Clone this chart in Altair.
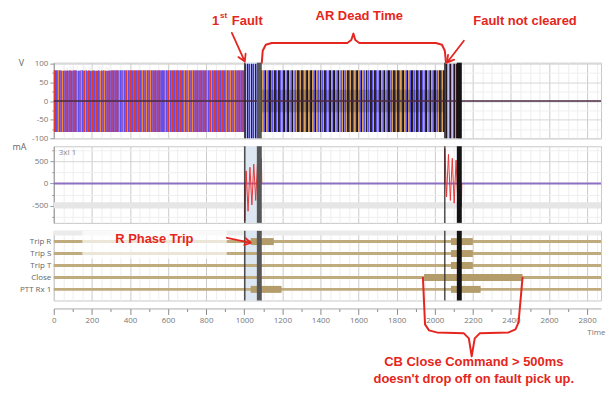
import altair as alt
import pandas as pd

# ------------------------------------------------------------------ data
T_END = 2873
W = 550
RED = "#e52620"

# voltage (V): envelope of the three-phase record per section
v_seg_start = [0, 1003, 1066, 2053]
v_seg_end = [1003, 1066, 2053, 2142]
v_seg_amp = [83, 100, 83, 100]
v_seg_cycles = [50, 3, 49, 4]
v_core_start = [1066]
v_core_end = [2053]
v_core_amp = [30]
v_zero_t = [0, 2873]
v_zero_v = [0, 0]
v_label = ["3xV L-Neutral"]

# current (mA)
i_zero_t = [0, 2873]
i_zero_v = [0, 0]
i_burst1_t = [1002, 1003, 1010, 1020, 1030, 1040, 1050, 1060, 1070, 1080, 1090, 1092]
i_burst1_v = [0, -840, 280, -620, 360, -480, 430, -380, 500, -300, 560, 0]
i_burst2_t = [2052, 2053, 2062, 2072, 2082, 2092, 2102, 2112, 2122, 2132, 2140, 2142]
i_burst2_v = [0, 780, -300, 650, -380, 560, -440, 520, -500, 420, -520, 0]
i_band = [-560, -420]
i_label = ["3xI 1"]

# digital channels
channels = ["Trip R", "Trip S", "Trip T", "Close", "PTT Rx 1"]
bar_channel = ["Trip R", "PTT Rx 1", "Trip R", "Trip S", "Trip T", "Close", "PTT Rx 1"]
bar_start = [1034, 1034, 2085, 2085, 2085, 1944, 2085]
bar_end = [1155, 1196, 2200, 2200, 2200, 2461, 2241]

# cursors and fault shading (ms)
cursor_thin = [1003, 2053]
cursor_thick_start = [1066, 2116]
cursor_thick_end = [1092, 2142]
shade_start = [1003]
shade_end = [1066]

# axis ticks
x_ticks = list(range(0, 2851, 50))
v_ticks = [-100, -75, -50, -25, 0, 25, 50, 75, 100]
i_ticks = [-750, -500, -250, 0, 250, 500, 750]
row_ticks = [1, 2, 3, 4, 5]

# annotations (data coordinates of their panel)
top_text = ["AR Dead Time", "Fault not cleared"]
top_text_t = [1604, 2474]
top_text_v = [228, 215]
fault_parts = ["1", "st", "Fault"]
fault_parts_t = [831, 873, 935]
fault_parts_v = [215, 227, 215]
fault_parts_size = [13, 8, 13]
brace_top_t = [1092, 1097, 1113, 1144, 1541, 1562, 1573, 1583, 1604, 2006, 2038, 2053, 2059]
brace_top_v = [103, 135, 151, 156, 156, 164, 181, 164, 156, 156, 151, 135, 103]
arrow1_t = [935, 1003, 1007, 1003, 969]
arrow1_v = [183, 106, 127, 106, 118]
arrow2_t = [2153, 2064, 2102, 2064, 2070]
arrow2_v = [162, 103, 111, 103, 124]

trip_text = ["R Phase Trip"]
trip_text_t = [528]
trip_text_v = [0.77]
overlay_t = [150, 908]
overlay_v = [0.1, 2.43]
arrow3_t = [909, 1034, 1007, 1034, 1000]
arrow3_v = [0.68, 1.1, 0.71, 1.1, 1.28]
brace_bot_t = [1938, 1949, 1970, 2011, 2153, 2179, 2194, 2210, 2236, 2388, 2424, 2440, 2461]
brace_bot_v = [4.02, 7.93, 8.43, 8.6, 8.68, 9.1, 10.6, 9.1, 8.68, 8.6, 8.35, 7.77, 4.02]
bottom_text = ["CB Close Command > 500ms", "doesn't drop off on fault pick up."]
bottom_text_t = [2205, 2205]
bottom_text_v = [11.1, 12.52]

# ------------------------------------------------------------------ styles
PATTERNS = [
    [(0.2, "#e23a28"), (0.32, "#f2863a"), (0.45, "#a8488c"), (0.72, "#5b4ff0"), (1.0, "#8e5cc8")],
    [(0.25, "#3a3ab8"), (0.45, "#b9bdf0"), (0.7, "#1e1e3c"), (1.0, "#7a78d8")],
    [(0.2, "#5d55ee"), (0.32, "#15151f"), (0.56, "#d9a45a"), (0.68, "#2a2020"), (0.86, "#8f80e8"),
     (1.0, "#302838")],
    [(0.25, "#5850e6"), (0.4, "#241820"), (0.65, "#a090f0"), (0.8, "#3a1e22"), (1.0, "#c8c2f2")],
]


def gradient(n, pattern):
    stops = []
    for k in range(n):
        prev = 0.0
        for frac, col in pattern:
            stops.append({"offset": round((k + prev) / n, 5), "color": col})
            stops.append({"offset": round((k + frac) / n, 5), "color": col})
            prev = frac
    return {"gradient": "linear", "x1": 0, "x2": 1, "y1": 0, "y2": 0, "stops": stops}


xs = alt.Scale(domain=[0, T_END], nice=False, zero=False)
ys1 = alt.Scale(domain=[-100, 103], nice=False, zero=False)
ys2 = alt.Scale(domain=[-880, 830], nice=False, zero=False)
ys3 = alt.Scale(domain=[0.1, 5.93], reverse=True, nice=False, zero=False)

x_grid_color = {"condition": {"test": "datum.value % 200 === 0", "value": "#cbcbcb"}, "value": "#eeeeee"}
ax_xh = alt.Axis(values=x_ticks, labels=False, ticks=False, domain=False, grid=True,
                 gridColor=x_grid_color, title=None)
ax_x = alt.Axis(values=x_ticks, grid=True, gridColor=x_grid_color, orient="bottom", offset=8,
                labelExpr="datum.value % 200 === 0 ? toString(datum.value) : ''",
                labelOverlap=False, labelFlush=False, labelPadding=2,
                tickSize={"condition": [{"test": "datum.value % 200 === 0", "value": 6},
                                        {"test": "datum.value % 100 === 0", "value": 3}], "value": 0},
                tickColor="#888", domainColor="#aaa",
                title="Time", titleAnchor="end", titleAlign="right", titleX=W + 4, titleY=20,
                titleFontSize=8, titleColor="#777", titleFontWeight="normal")


def y_axis(vals, major, title, title_x):
    return alt.Axis(values=vals,
                    labelExpr=f"datum.value % {major} === 0 ? toString(datum.value) : ''",
                    labelOverlap=False, labelPadding=2,
                    tickSize={"condition": {"test": f"datum.value % {major} === 0", "value": 4}, "value": 2},
                    gridColor={"condition": {"test": f"datum.value % {major} === 0", "value": "#d6d6d6"},
                               "value": "#efefef"},
                    title=title, titleAngle=0, titleX=title_x, titleY=0, titleAlign="center",
                    titleBaseline="middle", titleFontSize=9, titleColor="#666", titleFontWeight="normal")


ax_y1 = y_axis(v_ticks, 50, "V", -33)
ax_y2 = y_axis(i_ticks, 500, "mA", -35)
row_expr = "[" + ",".join(f"'{c}'" for c in channels) + "][datum.value - 1]"
ax_y3 = alt.Axis(values=row_ticks, labelExpr=row_expr, ticks=False, domain=False, grid=False,
                 labelPadding=3, labelColor="#666", title=None)


def X(field, axis):
    return alt.X(f"{field}:Q", scale=xs, axis=axis, title=None)


def Y1(field):
    return alt.Y(f"{field}:Q", scale=ys1, axis=ax_y1, title="V")


def Y2(field):
    return alt.Y(f"{field}:Q", scale=ys2, axis=ax_y2, title="mA")


def Y3(field):
    return alt.Y(f"{field}:Q", scale=ys3, axis=ax_y3, title=None)


def cursor_layers(axis):
    thin = alt.Chart(pd.DataFrame({"t": cursor_thin})).mark_rule(color="#262626", strokeWidth=1.2).encode(
        x=X("t", axis))
    thick = alt.Chart(pd.DataFrame({"t": cursor_thick_start, "t1": cursor_thick_end, "k": [0, 1]})).mark_rect(
    ).encode(x=X("t", axis), x2="t1:Q",
             color=alt.Color("k:N", scale=alt.Scale(domain=[0, 1], range=["#575757", "#141414"]), legend=None))
    return [thin, thick]


def red_path(ts, vs, Yf, axis, width=2):
    df = pd.DataFrame({"t": ts, "v": vs, "o": list(range(len(ts)))})
    return alt.Chart(df).mark_line(color=RED, strokeWidth=width, strokeCap="round", strokeJoin="round").encode(
        x=X("t", axis), y=Yf("v"), order="o:Q")


# ------------------------------------------------------------------ panel 1 (V)
p1_layers = [
    alt.Chart(pd.DataFrame({"t": shade_start, "t1": shade_end})).mark_rect(color="#dde7f2").encode(
        x=X("t", ax_xh), x2="t1:Q")
]
for i in range(len(v_seg_start)):
    df = pd.DataFrame({"t": [v_seg_start[i], v_seg_end[i]],
                       "lo": [-v_seg_amp[i]] * 2, "hi": [v_seg_amp[i]] * 2})
    p1_layers.append(alt.Chart(df).mark_area(fill=gradient(v_seg_cycles[i], PATTERNS[i]), opacity=1).encode(
        x=X("t", ax_xh), y=Y1("lo"), y2="hi:Q"))
core_df = pd.DataFrame({"t": [v_core_start[0], v_core_end[0]], "lo": [-v_core_amp[0]] * 2, "hi": [v_core_amp[0]] * 2})
p1_layers.append(alt.Chart(core_df).mark_area(color="#1a1020", opacity=0.22).encode(
    x=X("t", ax_xh), y=Y1("lo"), y2="hi:Q"))
p1_layers.append(alt.Chart(pd.DataFrame({"t": v_zero_t, "v": v_zero_v})).mark_line(
    color="#4a2840", strokeWidth=1.5).encode(x=X("t", ax_xh), y=Y1("v")))
p1_layers += cursor_layers(ax_xh)
p1_layers.append(alt.Chart(pd.DataFrame({"t": [37], "v": [87], "s": v_label})).mark_text(
    align="left", baseline="middle", font="Open Sans", fontSize=8, color="#f0f0f0").encode(
    x=X("t", ax_xh), y=Y1("v"), text="s:N"))
p1_layers.append(alt.Chart(pd.DataFrame({"t": top_text_t, "v": top_text_v, "s": top_text})).mark_text(
    align="center", baseline="middle", font="Liberation Sans", fontWeight="bold", fontSize=13, color=RED).encode(
    x=X("t", ax_xh), y=Y1("v"), text="s:N"))
p1_layers.append(alt.Chart(pd.DataFrame({"t": fault_parts_t, "v": fault_parts_v, "s": fault_parts,
                                          "z": fault_parts_size})).mark_text(
    align="left", baseline="middle", font="Liberation Sans", fontWeight="bold", color=RED).encode(
    x=X("t", ax_xh), y=Y1("v"), text="s:N", size=alt.Size("z:Q", scale=None)))
p1_layers.append(red_path(brace_top_t, brace_top_v, Y1, ax_xh, 2))
p1_layers.append(red_path(arrow1_t, arrow1_v, Y1, ax_xh, 1.8))
p1_layers.append(red_path(arrow2_t, arrow2_v, Y1, ax_xh, 1.8))
p1 = alt.layer(*p1_layers).properties(width=W, height=76)

# ------------------------------------------------------------------ panel 2 (mA)
p2_layers = [
    alt.Chart(pd.DataFrame({"t": [0], "t1": [T_END], "lo": [i_band[0]], "hi": [i_band[1]]})).mark_rect(
        color="#e6e6e6").encode(x=X("t", ax_xh), x2="t1:Q", y=Y2("lo"), y2="hi:Q"),
    alt.Chart(pd.DataFrame({"t": shade_start, "t1": shade_end})).mark_rect(color="#dde7f2").encode(
        x=X("t", ax_xh), x2="t1:Q"),
    alt.Chart(pd.DataFrame({"t": i_zero_t, "v": i_zero_v})).mark_line(color="#8c70c4", strokeWidth=2).encode(
        x=X("t", ax_xh), y=Y2("v")),
    alt.Chart(pd.DataFrame({"t": i_burst1_t, "v": i_burst1_v})).mark_line(color="#e8383a", strokeWidth=1).encode(
        x=X("t", ax_xh), y=Y2("v")),
    alt.Chart(pd.DataFrame({"t": i_burst2_t, "v": i_burst2_v})).mark_line(color="#e8383a", strokeWidth=1).encode(
        x=X("t", ax_xh), y=Y2("v")),
]
p2_layers += cursor_layers(ax_xh)
p2_layers.append(alt.Chart(pd.DataFrame({"t": [26], "v": [675], "s": i_label})).mark_text(
    align="left", baseline="middle", font="Open Sans", fontSize=8, color="#888").encode(
    x=X("t", ax_xh), y=Y2("v"), text="s:N"))
p2 = alt.layer(*p2_layers).properties(width=W, height=77)

# ------------------------------------------------------------------ panel 3 (digital)
base_df = pd.DataFrame({"row": [channels.index(c) + 1 for c in channels], "t": [0] * len(channels),
                        "t1": [T_END] * len(channels)})
bars_df = pd.DataFrame({"row": [channels.index(c) + 1 for c in bar_channel], "t": bar_start, "t1": bar_end})
p3_layers = [
    alt.Chart(pd.DataFrame({"t": [0], "t1": [T_END], "lo": [0.1], "hi": [0.5]})).mark_rect(
        color="#ebebeb").encode(x=X("t", ax_x), x2="t1:Q", y=Y3("lo"), y2="hi:Q"),
    alt.Chart(pd.DataFrame({"t": shade_start, "t1": shade_end})).mark_rect(color="#dde7f2").encode(
        x=X("t", ax_x), x2="t1:Q"),
    alt.Chart(base_df).mark_rule(color="#c0ab7e", strokeWidth=3).encode(x=X("t", ax_x), x2="t1:Q", y=Y3("row")),
    alt.Chart(pd.DataFrame({"t": [overlay_t[0]], "t1": [overlay_t[1]], "lo": [overlay_v[0]], "hi": [overlay_v[1]]})
              ).mark_rect(color="white", opacity=0.7).encode(x=X("t", ax_x), x2="t1:Q", y=Y3("lo"), y2="hi:Q"),
    alt.Chart(bars_df).mark_rule(color="#b39c6a", strokeWidth=7).encode(x=X("t", ax_x), x2="t1:Q", y=Y3("row")),
]
p3_layers += cursor_layers(ax_x)
p3_layers.append(alt.Chart(pd.DataFrame({"t": trip_text_t, "v": trip_text_v, "s": trip_text})).mark_text(
    align="center", baseline="middle", font="Liberation Sans", fontWeight="bold", fontSize=13, color=RED).encode(
    x=X("t", ax_x), y=Y3("v"), text="s:N"))
p3_layers.append(red_path(arrow3_t, arrow3_v, Y3, ax_x, 1.8))
p3_layers.append(red_path(brace_bot_t, brace_bot_v, Y3, ax_x, 2))
p3_layers.append(alt.Chart(pd.DataFrame({"t": bottom_text_t, "v": bottom_text_v, "s": bottom_text})).mark_text(
    align="center", baseline="middle", font="Liberation Sans", fontWeight="bold", fontSize=13, color=RED).encode(
    x=X("t", ax_x), y=Y3("v"), text="s:N"))
p3 = alt.layer(*p3_layers).properties(width=W, height=70)

# ------------------------------------------------------------------ assemble
chart = alt.vconcat(
    p1, p2, p3, spacing=8, bounds="flush"
).properties(
    padding={"left": 3, "top": 0, "right": 0, "bottom": 0},
    background="white",
).configure_view(
    stroke="#c8c8c8", strokeWidth=1
).configure_axis(
    labelFont="Open Sans", labelFontSize=8, labelColor="#777", titleFont="Open Sans",
    domainColor="#999", tickColor="#999"
)

chart.save("out.html", embed_options={"renderer": "svg", "actions": False})
